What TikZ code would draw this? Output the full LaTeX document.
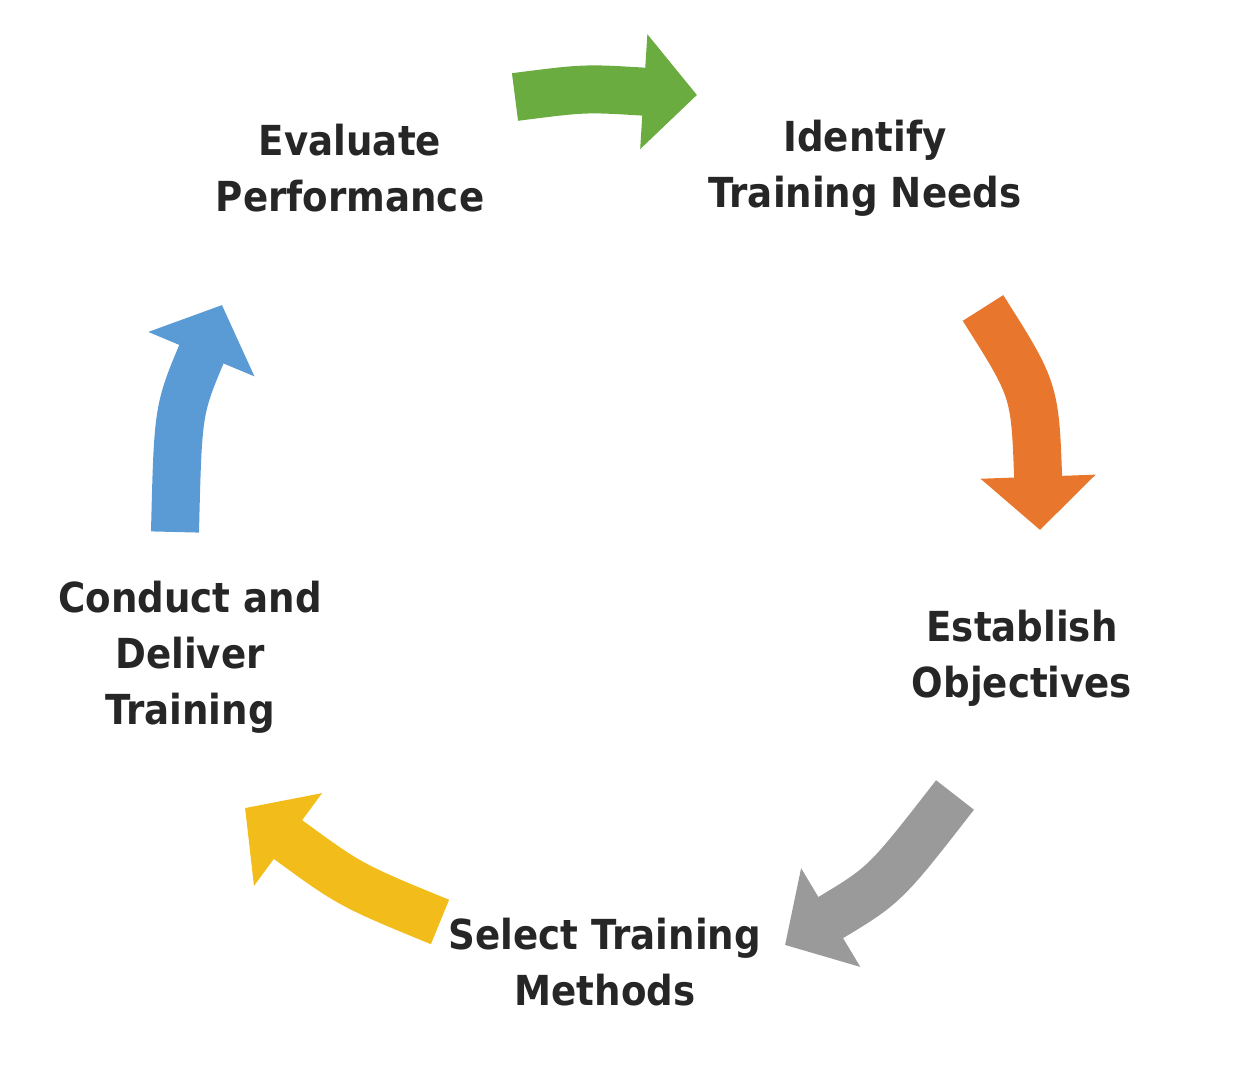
\documentclass[tikz,border=0pt]{standalone}
\usepackage{fontspec}
\setmainfont{DejaVu Sans Condensed}
\usetikzlibrary{arrows.meta}
\definecolor{cgreen}{HTML}{6AAC3F}
\definecolor{corange}{HTML}{E8762C}
\definecolor{cgray}{HTML}{9A9A9A}
\definecolor{cyellow}{HTML}{F2BD1A}
\definecolor{cblue}{HTML}{5B9BD5}
\begin{document}
\begin{tikzpicture}[x=0.75pt,y=-0.75pt,
  lbl/.style={align=center,font=\fontsize{31}{42}\selectfont\bfseries,text=black!85},
  blk/.style={line width=36pt,-{Triangle[width=84pt,length=40pt]}}]
\useasboundingbox (0,0) rectangle (1240,1066);
\node[lbl] (eval) at (350,168) {Evaluate\\Performance};
\node[lbl] (ident) at (865,168) {Identify\\Training Needs};
\node[lbl] (estab) at (1022,658) {Establish\\Objectives};
\node[lbl] (conduct) at (190,657) {Conduct and\\Deliver\\Training};
\coordinate (g1) at (515,97); \coordinate (g2) at (697,95);
\coordinate (o1) at (983,308); \coordinate (o2) at (1040,530);
\coordinate (r1) at (955,795); \coordinate (r2) at (785,945);
\coordinate (y1) at (440,922); \coordinate (y2) at (245,808);
\coordinate (b1) at (175,532); \coordinate (b2) at (222,305);
\draw[blk,cgreen] (g1) .. controls (585,88) .. (g2);
\draw[blk,corange] (o1) .. controls (1035,390) .. (o2);
\draw[blk,cgray] (r1) .. controls (885,885) .. (r2);
\draw[blk,cyellow] (y1) .. controls (350,885) .. (y2);
\draw[blk,cblue] (b1) .. controls (178,410) .. (b2);
\node[lbl] (select) at (605,962) {Select Training\\Methods};
\end{tikzpicture}
\end{document}
